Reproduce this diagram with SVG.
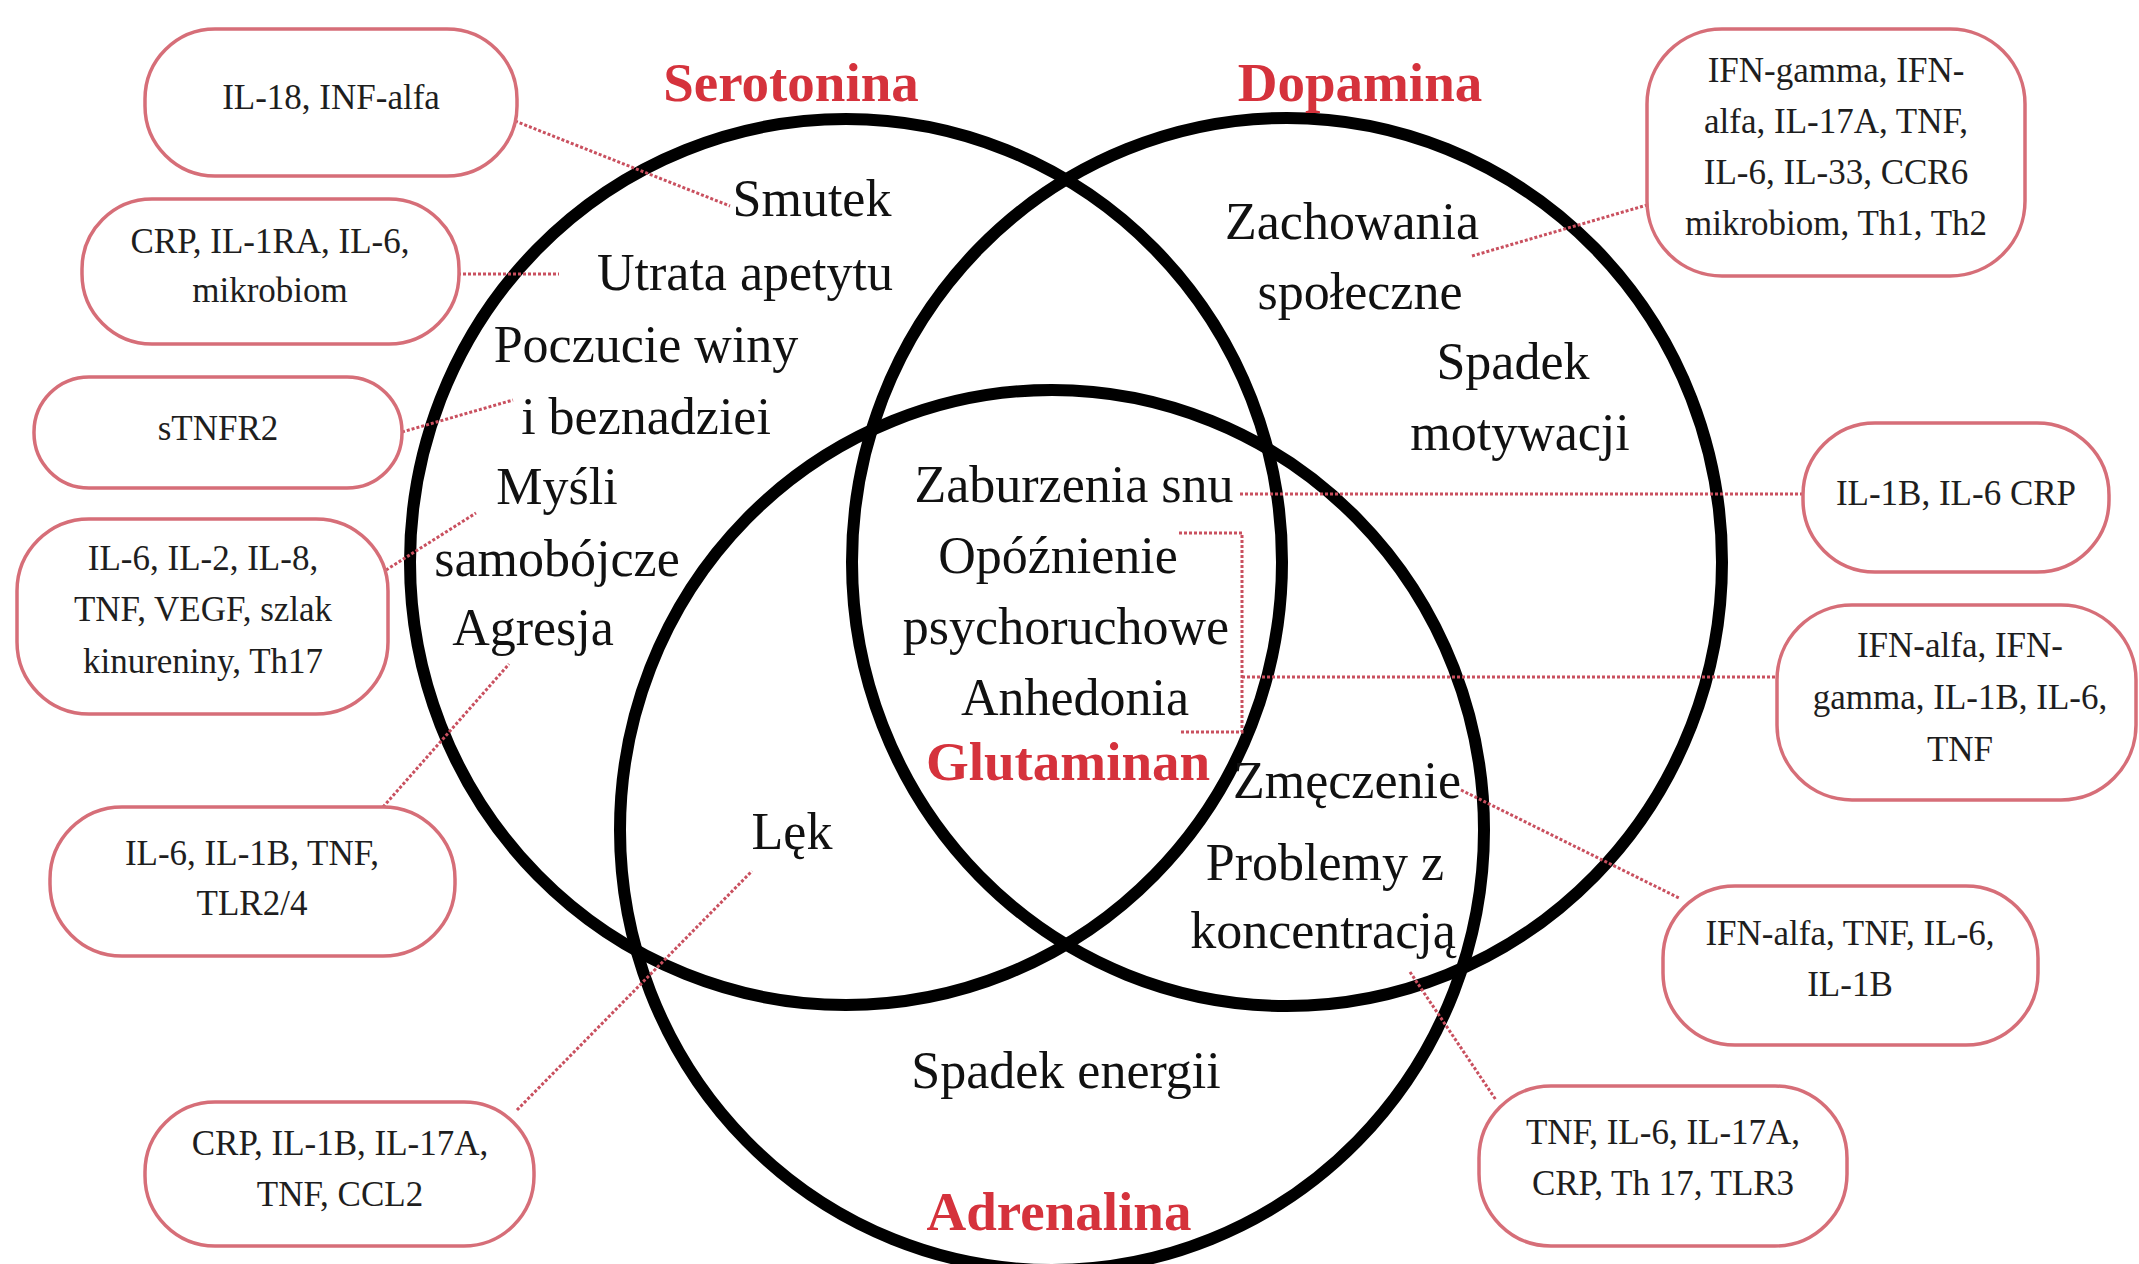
<svg xmlns="http://www.w3.org/2000/svg" width="2139" height="1264" viewBox="0 0 2139 1264">
<style>
.bg{fill:#ffffff}
.circ{fill:none;stroke:#000;stroke-width:12}
.lbl{font-family:"Liberation Serif","Times New Roman",serif;font-size:52px;fill:#111;text-anchor:middle}
.ttl{font-family:"Liberation Serif","Times New Roman",serif;font-size:55px;font-weight:bold;fill:#d5323c;text-anchor:middle}
.box{fill:#fff;stroke:#d66e78;stroke-width:3.5}
.bt{font-family:"Liberation Serif","Times New Roman",serif;font-size:35px;fill:#1e1e1e;text-anchor:middle}
.con{fill:none;stroke:#c9505f;stroke-width:3;stroke-dasharray:3 2}
</style>
<rect class="bg" x="0" y="0" width="2139" height="1264"/>
<g id="circles">
<ellipse id="serotonina-circle" class="circ" cx="846" cy="562" rx="436" ry="443"/>
<ellipse id="dopamina-circle" class="circ" cx="1287" cy="562" rx="435" ry="444"/>
<ellipse id="adrenalina-circle" class="circ" cx="1052" cy="830" rx="432" ry="440"/>
</g>
<g id="connectors">
<path class="con" d="M515 121 L730 206"/>
<path class="con" d="M453 274 L559 274"/>
<path class="con" d="M402 432 L513 400"/>
<path class="con" d="M386 570 L476 513"/>
<path class="con" d="M383 807 L509 664"/>
<path class="con" d="M517 1110 L752 871"/>
<path class="con" d="M1472 256 L1647 205"/>
<path class="con" d="M1240 494 L1803 494"/>
<path class="con" d="M1179 533 H1242 V732 H1179"/>
<path class="con" d="M1242 677 H1777"/>
<path class="con" d="M1461 790 L1679 898"/>
<path class="con" d="M1410 972 L1496 1100"/>
</g>
<g id="titles">
<text id="t-serotonina" class="ttl" x="791" y="101">Serotonina</text>
<text id="t-dopamina" class="ttl" x="1360" y="101">Dopamina</text>
<text id="t-glutaminan" class="ttl" x="1068" y="780">Glutaminan</text>
<text id="t-adrenalina" class="ttl" x="1059" y="1230">Adrenalina</text>
</g>
<g id="symptoms">
<text class="lbl" x="812" y="216">Smutek</text>
<text class="lbl" x="745" y="290">Utrata apetytu</text>
<text class="lbl" x="646" y="362">Poczucie winy</text>
<text class="lbl" x="646" y="434">i beznadziei</text>
<text class="lbl" x="557" y="504">Myśli</text>
<text class="lbl" x="557" y="576">samobójcze</text>
<text class="lbl" x="533" y="645">Agresja</text>
<text class="lbl" x="1352" y="239">Zachowania</text>
<text class="lbl" x="1360" y="309">społeczne</text>
<text class="lbl" x="1513" y="379">Spadek</text>
<text class="lbl" x="1520" y="450">motywacji</text>
<text class="lbl" x="1074" y="502">Zaburzenia snu</text>
<text class="lbl" x="1058" y="573">Opóźnienie</text>
<text class="lbl" x="1066" y="644">psychoruchowe</text>
<text class="lbl" x="1075" y="715">Anhedonia</text>
<text class="lbl" x="1347" y="798">Zmęczenie</text>
<text class="lbl" x="1325" y="880">Problemy z</text>
<text class="lbl" x="1323" y="948">koncentracją</text>
<text class="lbl" x="792" y="849">Lęk</text>
<text class="lbl" x="1066" y="1088">Spadek energii</text>
</g>
<g id="box1"><rect class="box" x="145" y="29" width="372" height="147" rx="70"/><text class="bt" x="331" y="109">IL-18, INF-alfa</text></g>
<g id="box2"><rect class="box" x="82" y="199" width="377" height="145" rx="70"/><text class="bt" x="270" y="253">CRP, IL-1RA, IL-6,</text><text class="bt" x="270" y="302">mikrobiom</text></g>
<g id="box3"><rect class="box" x="34" y="377" width="368" height="111" rx="55"/><text class="bt" x="218" y="440">sTNFR2</text></g>
<g id="box4"><rect class="box" x="17" y="519" width="371" height="195" rx="72"/><text class="bt" x="203" y="570">IL-6, IL-2, IL-8,</text><text class="bt" x="203" y="621">TNF, VEGF, szlak</text><text class="bt" x="203" y="673">kinureniny, Th17</text></g>
<g id="box5"><rect class="box" x="50" y="807" width="405" height="149" rx="72"/><text class="bt" x="252" y="865">IL-6, IL-1B, TNF,</text><text class="bt" x="252" y="915">TLR2/4</text></g>
<g id="box6"><rect class="box" x="145" y="1102" width="389" height="144" rx="70"/><text class="bt" x="340" y="1155">CRP, IL-1B, IL-17A,</text><text class="bt" x="340" y="1206">TNF, CCL2</text></g>
<g id="box7"><rect class="box" x="1647" y="29" width="378" height="247" rx="75"/><text class="bt" x="1836" y="82">IFN-gamma, IFN-</text><text class="bt" x="1836" y="133">alfa, IL-17A, TNF,</text><text class="bt" x="1836" y="184">IL-6, IL-33, CCR6</text><text class="bt" x="1836" y="235">mikrobiom, Th1, Th2</text></g>
<g id="box8"><rect class="box" x="1803" y="423" width="306" height="149" rx="72"/><text class="bt" x="1956" y="505">IL-1B, IL-6 CRP</text></g>
<g id="box9"><rect class="box" x="1777" y="605" width="359" height="195" rx="75"/><text class="bt" x="1960" y="657">IFN-alfa, IFN-</text><text class="bt" x="1960" y="709">gamma, IL-1B, IL-6,</text><text class="bt" x="1960" y="761">TNF</text></g>
<g id="box10"><rect class="box" x="1663" y="886" width="375" height="159" rx="72"/><text class="bt" x="1850" y="945">IFN-alfa, TNF, IL-6,</text><text class="bt" x="1850" y="996">IL-1B</text></g>
<g id="box11"><rect class="box" x="1479" y="1086" width="368" height="160" rx="72"/><text class="bt" x="1663" y="1144">TNF, IL-6, IL-17A,</text><text class="bt" x="1663" y="1195">CRP, Th 17, TLR3</text></g>
</svg>
